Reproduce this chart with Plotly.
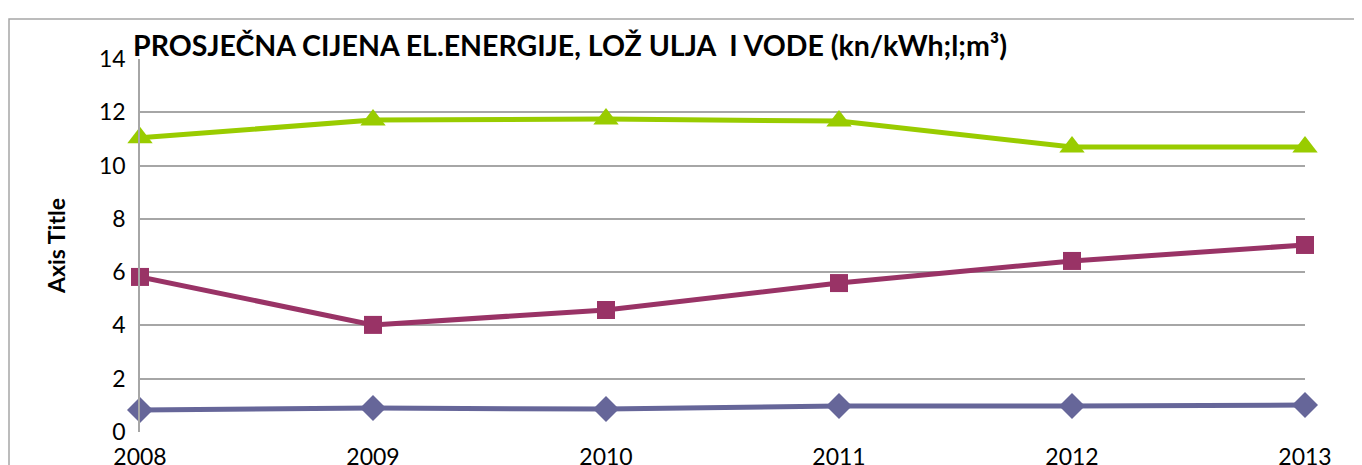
import plotly.graph_objects as go

years = [2008, 2009, 2010, 2011, 2012, 2013]
voda = [11.04, 11.71, 11.75, 11.67, 10.70, 10.70]
lozulje = [5.82, 4.02, 4.58, 5.59, 6.42, 7.02]
struja = [0.83, 0.90, 0.86, 0.98, 0.98, 1.01]

W, H = 1362, 465
off = 8  # page body margin
L, T = 140 - off, 59 - off
R = W - (1305 - off)
B = H - (432 - off)
font = "Lato"

fig = go.Figure()
fig.add_trace(go.Scatter(x=years, y=struja, mode="lines+markers", name="el. energija",
                         line=dict(color="#666699", width=5),
                         marker=dict(symbol="diamond", size=20, color="#666699"),
                         cliponaxis=False))
fig.add_trace(go.Scatter(x=years, y=lozulje, mode="lines+markers", name="lož ulje",
                         line=dict(color="#993366", width=5),
                         marker=dict(symbol="square", size=18, color="#993366"),
                         cliponaxis=False))
fig.add_trace(go.Scatter(x=years, y=voda, mode="lines+markers", name="voda",
                         line=dict(color="#99CC00", width=5),
                         marker=dict(symbol="triangle-up", size=22, color="#99CC00"),
                         cliponaxis=False))

pw = W - L - R
ph = H - T - B
# outer chart border
bx, by = 9 - off, 9 - off
fig.add_shape(type="rect", xref="paper", yref="paper",
              x0=(bx - L) / pw, x1=(W + 20 - L) / pw,
              y0=(H - T - (H + 20)) / ph, y1=(H - T - by) / ph,
              line=dict(color="#a6a6a6", width=1.5), fillcolor="rgba(0,0,0,0)", layer="below")

fig.update_layout(
    width=W, height=H,
    margin=dict(l=L, r=R, t=T, b=B, autoexpand=False),
    paper_bgcolor="white", plot_bgcolor="white",
    showlegend=False,
    font=dict(family=font, color="black"),
    title=dict(text="<b>PROSJEČNA CIJENA EL.ENERGIJE, LOŽ ULJA  I VODE (kn/kWh;l;m³)</b>",
               x=(133 - off) / W, xanchor="left", y=1 - (46 - off) / H, yanchor="middle",
               font=dict(size=28.5, family=font, color="black")),
    xaxis=dict(range=[2008, 2013], tickvals=years, ticktext=[str(y) for y in years],
               showgrid=False, zeroline=False, showline=False, ticks="", automargin=False,
               tickfont=dict(size=23, color="black"), ticklabelstandoff=9),
    yaxis=dict(range=[0, 14], dtick=2, showgrid=True, gridcolor="#a6a6a6", gridwidth=1.5,
               zeroline=False, showline=True, linecolor="#a6a6a6", linewidth=1.5, automargin=False,
               ticks="", tickfont=dict(size=23, color="black"), ticklabelstandoff=8,
               title=dict(text="<b>Axis Title</b>", font=dict(size=23, color="black"), standoff=27)),
)

fig.write_html("out.html")
